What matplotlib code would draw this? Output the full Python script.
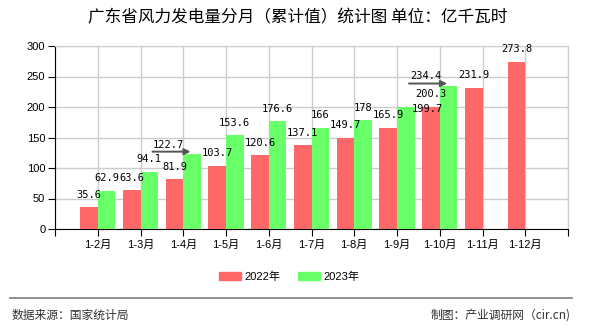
import matplotlib
matplotlib.use('Agg')
import matplotlib.pyplot as plt
from matplotlib.lines import Line2D
from matplotlib.patches import Patch
import numpy as np

plt.rcParams['font.family'] = ['Liberation Sans', 'Noto Sans CJK SC']

# data
months = ['1-2月', '1-3月', '1-4月', '1-5月', '1-6月', '1-7月',
          '1-8月', '1-9月', '1-10月', '1-11月', '1-12月']
v2022 = [35.6, 63.6, 81.9, 103.7, 120.6, 137.1, 149.7, 165.9, 200.3, 231.9, 273.8]
v2023 = [62.9, 94.1, 122.7, 153.6, 176.6, 166, 178, 199.7, 234.4]

red = '#ff6868'
green = '#68ff68'
W = 0.41

fig = plt.figure(figsize=(5.9, 3.3), dpi=100)
ax = fig.add_axes([55 / 590, 1 - 229 / 330, 513 / 590, 183 / 330])

x = np.arange(1, len(months) + 1)
b22 = ax.bar(x - W / 2, v2022, W, color=red, zorder=3)
b23 = ax.bar(x[:len(v2023)] + W / 2, v2023, W, color=green, zorder=3)

ax.set_xlim(0, 12)
ax.set_ylim(0, 300)
ax.set_yticks(range(0, 301, 50))
ax.set_xticks(range(0, 13))
ax.set_xticklabels([''] + months + [''])
ax.tick_params(axis='both', labelsize=8, length=5, color='black', pad=2)
ax.tick_params(axis='x', pad=3)
ax.grid(True, color='#cccccc', lw=1, zorder=0)
ax.spines['top'].set_color('#cccccc')
ax.spines['right'].set_color('#cccccc')

# label shifts in px (right, down) for the overlapping ones
shift22 = {}
shift23 = {2: (-24, 3), 7: (22, 14), 8: (-23, 2)}
arrows23 = [2, 8]
lab_font = dict(family='DejaVu Sans Mono', fontsize=7.5)

def put_labels(vals, xs, shifts, arrows):
    for i, v in enumerate(vals):
        dx, dy = shifts.get(i, (0, 0))
        off = (dx * 0.72, (12.5 - dy) * 0.72)
        ax.annotate(f'{v:g}', xy=(xs[i], v), xytext=off,
                    textcoords='offset points', ha='center', va='center',
                    zorder=5, **lab_font)
        if i in arrows:
            # leader line under the moved label, pointing at the bar top
            tip = ax.transData.transform((xs[i], v)) + np.array([-1.5, 2.5])
            tip = ax.transData.inverted().transform(tip)
            ax.annotate('', xy=tip, xytext=(-38 * 0.72, 0),
                        textcoords='offset points', zorder=5,
                        arrowprops=dict(arrowstyle='-|>', color='#555555', lw=1.4,
                                        shrinkA=0, shrinkB=0, mutation_scale=9))

put_labels(v2022, x - W / 2, shift22, [])
put_labels(v2023, x + W / 2, shift23, arrows23)

fig.text(0.505, 1 - 18 / 330, '广东省风力发电量分月（累计值）统计图 单位：亿千瓦时',
         ha='center', va='center', fontsize=12, family=['Noto Sans CJK SC'])

handles = [Patch(color=red, label='2022年'), Patch(color=green, label='2023年')]
fig.legend(handles=handles, loc='center', bbox_to_anchor=(0.49, 1 - 277 / 330),
           ncol=2, frameon=False, fontsize=8, handlelength=2.0, handleheight=0.75,
           handletextpad=0.3, columnspacing=1.6)

fig.add_artist(Line2D([10 / 590, 572 / 590], [1 - 298 / 330] * 2,
                      transform=fig.transFigure, color='#888888', lw=1.3))
fig.text(12 / 590, 1 - 315 / 330, '数据来源：国家统计局', ha='left', va='center',
         fontsize=8.5, color='#333333', family=['Noto Sans CJK SC'])
fig.text(571 / 590, 1 - 315 / 330, '制图：产业调研网（cir.cn)', ha='right', va='center',
         fontsize=8.5, color='#333333', family=['Noto Sans CJK SC'])

fig.savefig('out.png', dpi=100)
